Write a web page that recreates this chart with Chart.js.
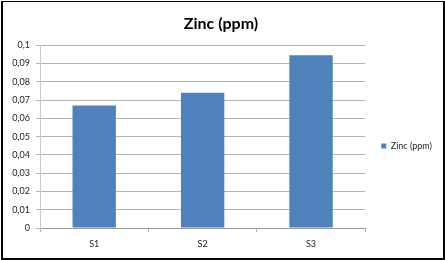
<!DOCTYPE html>
<html>
<head>
<meta charset="utf-8">
<script src="https://cdn.jsdelivr.net/npm/chart.js@4"></script>
<style>
  html, body { margin: 0; padding: 0; background: #fff; }
  #wrap { width: 445px; height: 260px; position: relative; }
</style>
</head>
<body>
<div id="wrap"><canvas id="chartCanvas"></canvas></div>
<script>
const TITLE = "Zinc (ppm)";
const CATEGORIES = ["S1", "S2", "S3"];
const SERIES_LABEL = "Zinc (ppm)";
const ZINC_PPM = [0.067, 0.074, 0.0945];
const Y_TICKS = ["0", "0,01", "0,02", "0,03", "0,04", "0,05", "0,06", "0,07", "0,08", "0,09", "0,1"];

const BAR_COLOR = "#4f81bd";
const GRID_COLOR = "#b4b4b4";
const FONT = "Lato";

// black frame around the whole picture
const framePlugin = {
  id: "frame",
  afterDraw(chart) {
    const ctx = chart.ctx;
    ctx.save();
    ctx.fillStyle = "#000";
    ctx.fillRect(1, 1, 2, 259);   // left
    ctx.fillRect(1, 1, 444, 1);   // top
    ctx.fillRect(443, 1, 2, 259); // right
    ctx.fillRect(1, 258, 444, 2); // bottom
    ctx.restore();
  }
};

new Chart(document.getElementById("chartCanvas").getContext("2d"), {
  type: "bar",
  data: {
    labels: CATEGORIES,
    datasets: [{
      label: SERIES_LABEL,
      data: ZINC_PPM,
      backgroundColor: BAR_COLOR,
      borderWidth: 0,
      categoryPercentage: 1.0,
      barPercentage: 0.4
    }]
  },
  options: {
    responsive: true,
    maintainAspectRatio: false,
    animation: false,
    layout: {
      padding: { left: 0, right: 3, top: 0, bottom: 0 }
    },
    plugins: {
      title: {
        display: true,
        text: TITLE,
        color: "#000",
        font: { family: FONT, size: 16, weight: "bold" },
        padding: { top: 14, bottom: 12 }
      },
      legend: {
        position: "right",
        // empty legend title only used to push the item a bit lower
        title: {
          display: true,
          text: "",
          font: { family: FONT, size: 10 },
          padding: { top: 10, bottom: 10 }
        },
        labels: {
          boxWidth: 5,
          boxHeight: 5,
          padding: 16,
          color: "#222",
          font: { family: FONT, size: 9 }
        }
      },
      tooltip: { enabled: false }
    },
    scales: {
      x: {
        grid: {
          display: true,
          drawOnChartArea: false,
          drawTicks: true,
          tickLength: 4,
          color: GRID_COLOR,
          offset: true
        },
        border: { display: true, color: "#9a9a9a" },
        ticks: {
          color: "#222",
          padding: 7,
          font: { family: FONT, size: 9 }
        },
        afterFit: (scale) => { scale.height = 32; }
      },
      y: {
        min: 0,
        max: 0.1,
        grid: {
          color: GRID_COLOR,
          tickLength: 4
        },
        border: { display: true, color: "#c8c8c8" },
        ticks: {
          stepSize: 0.01,
          color: "#222",
          padding: 6,
          font: { family: FONT, size: 9 },
          callback: (value) => Y_TICKS[Math.round(value * 100)]
        },
        afterFit: (scale) => { scale.width = 40; }
      }
    }
  },
  plugins: [framePlugin]
});
</script>
</body>
</html>
